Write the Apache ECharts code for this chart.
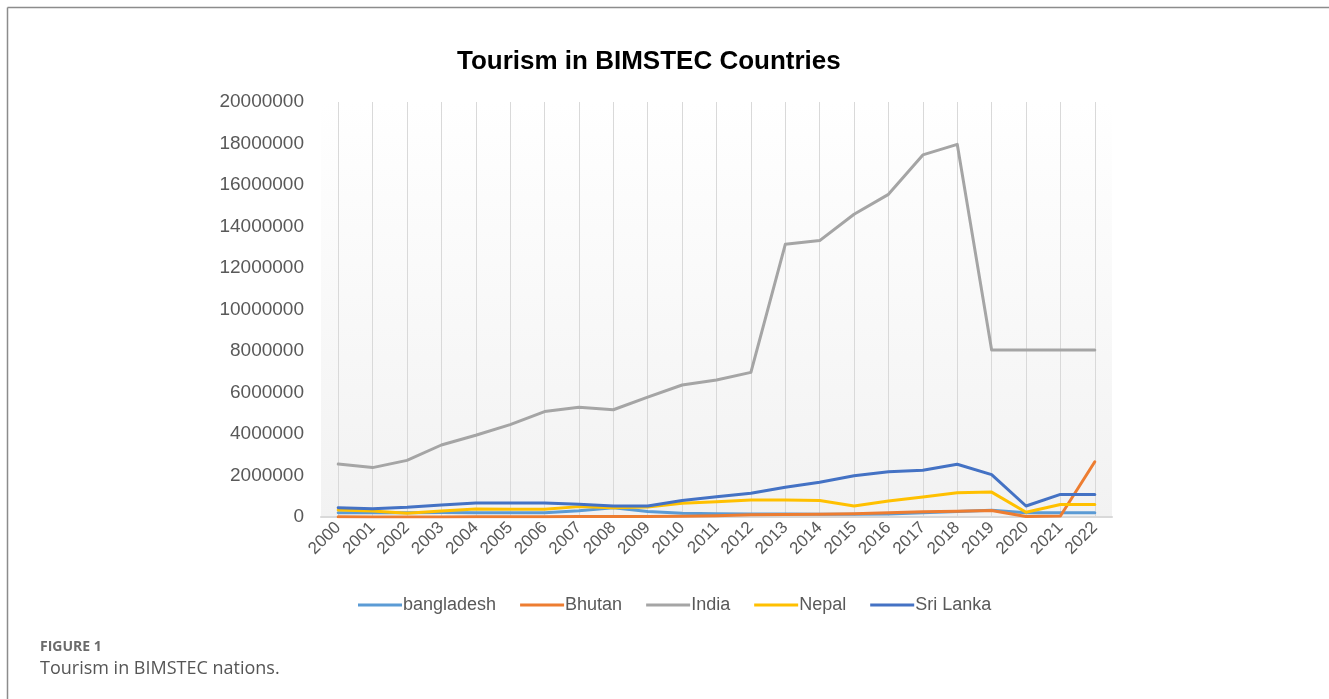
<!DOCTYPE html>
<html>
<head>
<meta charset="utf-8">
<script src="https://cdn.jsdelivr.net/npm/echarts@6/dist/echarts.min.js"></script>
<style>
html,body{margin:0;padding:0;background:#fff;}
#chart{width:1329px;height:699px;}
</style>
</head>
<body>
<div id="chart"></div>
<script>
const years = ['2000','2001','2002','2003','2004','2005','2006','2007','2008','2009','2010','2011','2012','2013','2014','2015','2016','2017','2018','2019','2020','2021','2022'];
const bangladesh = [200000, 210000, 210000, 220000, 210000, 200000, 200000, 300000, 450000, 270000, 180000, 160000, 140000, 150000, 130000, 130000, 140000, 200000, 260000, 320000, 200000, 200000, 200000];
const bhutan = [8000, 6000, 6000, 6000, 9000, 14000, 17000, 21000, 28000, 23000, 41000, 65000, 105000, 116000, 133000, 155000, 210000, 255000, 274000, 315000, 29000, 50000, 2660000];
const india = [2550000, 2380000, 2730000, 3470000, 3940000, 4450000, 5080000, 5290000, 5170000, 5780000, 6360000, 6600000, 6970000, 13140000, 13320000, 14590000, 15550000, 17450000, 17960000, 8050000, 8050000, 8050000, 8050000];
const nepal = [340000, 290000, 180000, 290000, 390000, 370000, 370000, 500000, 450000, 480000, 660000, 740000, 820000, 820000, 800000, 530000, 770000, 960000, 1170000, 1200000, 230000, 600000, 600000];
const sriLanka = [450000, 400000, 470000, 580000, 670000, 670000, 680000, 610000, 530000, 530000, 800000, 980000, 1140000, 1430000, 1670000, 1990000, 2180000, 2250000, 2540000, 2040000, 530000, 1090000, 1090000];

const seriesNames = ['bangladesh','Bhutan','India','Nepal','Sri Lanka'];
const seriesData = [bangladesh, bhutan, india, nepal, sriLanka];
const colors = ['#5B9BD5','#ED7D31','#A5A5A5','#FFC000','#4472C4'];
const FONT = "'Liberation Sans', Arial, sans-serif";

const chart = echarts.init(document.getElementById('chart'), null, {renderer:'canvas'});
chart.setOption({
  animation:false,
  color: colors,
  title:{
    text:'Tourism in BIMSTEC Countries',
    left:452, top:44,
    textStyle:{fontFamily:FONT, fontSize:26, fontWeight:'bold', color:'#000'}
  },
  legend:{
    left:353, top:591,
    icon:'rect',
    itemWidth:44, itemHeight:3, itemGap:24,
    textStyle:{fontFamily:FONT, fontSize:18, color:'#595959', padding:[0,0,0,-4]},
    data: seriesNames
  },
  grid:{
    left:321, right:217, top:102, bottom:182,
    show:true, borderWidth:0,
    backgroundColor:{type:'linear',x:0,y:0,x2:0,y2:1,colorStops:[{offset:0,color:'#ffffff'},{offset:1,color:'#f2f2f2'}]}
  },
  xAxis:{
    type:'category',
    data: years,
    boundaryGap:true,
    axisLine:{show:true, lineStyle:{color:'#d9d9d9', width:2}},
    axisTick:{show:false},
    splitLine:{show:true, alignWithLabel:true, lineStyle:{color:'#d9d9d9', width:1}},
    axisLabel:{rotate:45, interval:0, fontFamily:FONT, fontSize:17, color:'#595959', margin:8}
  },
  yAxis:{
    type:'value',
    min:0, max:20000000, interval:2000000,
    axisLine:{show:false},
    axisTick:{show:false},
    splitLine:{show:false},
    axisLabel:{fontFamily:FONT, fontSize:19, color:'#595959', margin:17, formatter:(v)=>String(v)}
  },
  series: seriesNames.map((n,i)=>({
    name:n, type:'line', data:seriesData[i],
    symbol:'none', showSymbol:false,
    lineStyle:{width:3, color:colors[i], cap:'round', join:'round'},
    itemStyle:{color:colors[i]}
  })),
  graphic:[
    {type:'line', shape:{x1:7.5,y1:7.5,x2:1329,y2:7.5}, style:{stroke:'#8c8c8c', lineWidth:1.5}},
    {type:'line', shape:{x1:7.5,y1:7.5,x2:7.5,y2:699}, style:{stroke:'#8c8c8c', lineWidth:1.5}},
    {type:'text', left:40, top:640, style:{text:'FIGURE 1', font:"bold 14px 'Open Sans', Lato, sans-serif", fill:'#6b6b6b'}},
    {type:'text', left:40, top:660, style:{text:'Tourism in BIMSTEC nations.', font:"18px 'Open Sans', Lato, sans-serif", fill:'#555555'}}
  ]
});
</script>
</body>
</html>
